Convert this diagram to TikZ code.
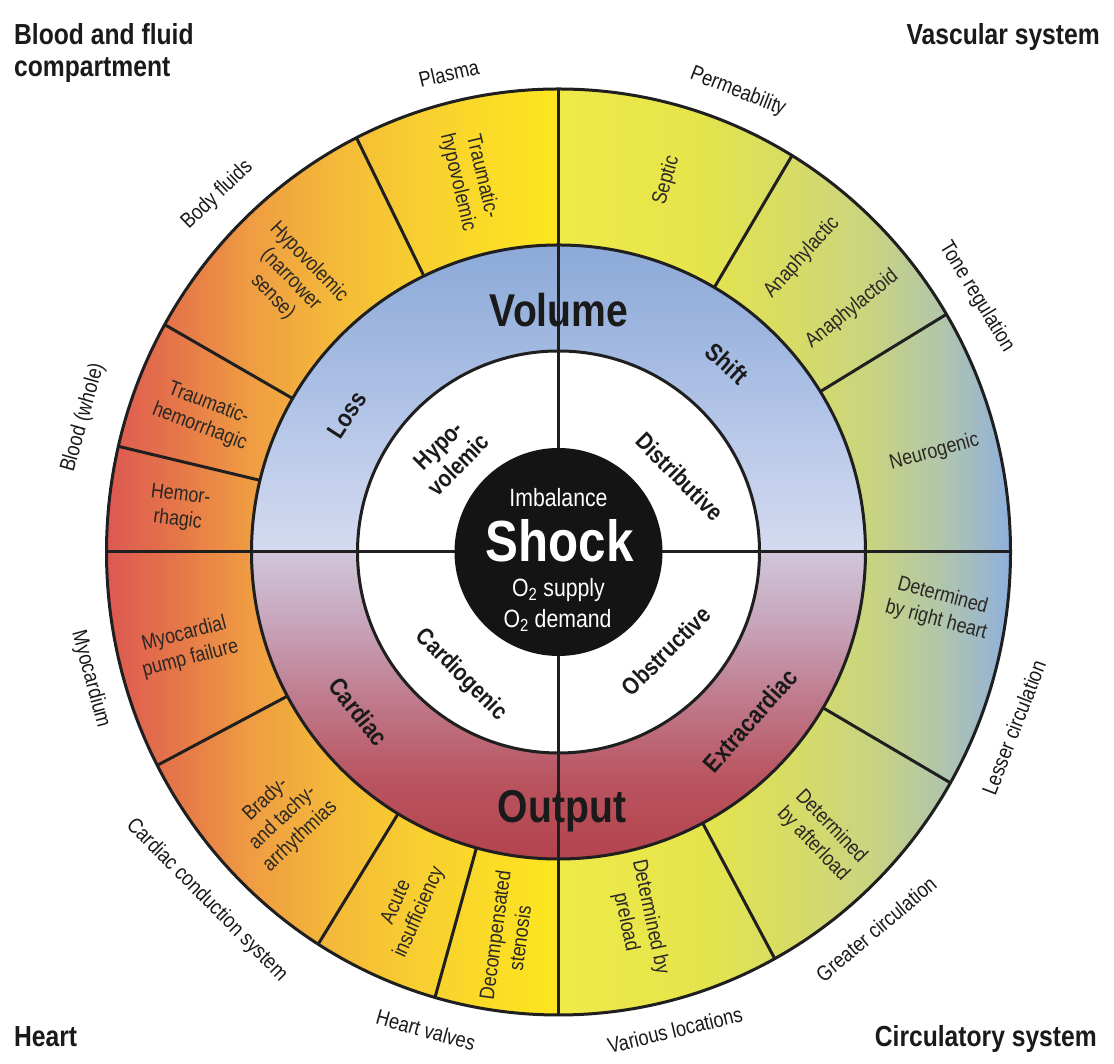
\documentclass[tikz,border=0pt]{standalone}
\usepackage{fontspec}
\setmainfont{Liberation Sans}[FakeStretch=0.85]
\definecolor{oLa}{HTML}{DC5852}
\definecolor{oLb}{HTML}{E67848}
\definecolor{oLc}{HTML}{EF9C42}
\definecolor{oLd}{HTML}{F4B83A}
\definecolor{oLe}{HTML}{F8CF30}
\definecolor{oLf}{HTML}{FBDD26}
\definecolor{oLg}{HTML}{FDE61E}
\definecolor{oRa}{HTML}{EFEA48}
\definecolor{oRb}{HTML}{E5E44C}
\definecolor{oRc}{HTML}{D5DB68}
\definecolor{oRd}{HTML}{C9D480}
\definecolor{oRe}{HTML}{B2C6AA}
\definecolor{oRf}{HTML}{8FB0DE}
\definecolor{iTa}{HTML}{D5DAEF}
\definecolor{iTb}{HTML}{BCCBEA}
\definecolor{iTc}{HTML}{A2B9E1}
\definecolor{iTd}{HTML}{8CA9D8}
\definecolor{iBa}{HTML}{B4434D}
\definecolor{iBb}{HTML}{B9545F}
\definecolor{iBc}{HTML}{BF7A8C}
\definecolor{iBd}{HTML}{C8A6BC}
\definecolor{iBe}{HTML}{D0C6DA}
\definecolor{linecol}{HTML}{1F1F1F}
\definecolor{labcol}{HTML}{1A1A1A}
\definecolor{segcol}{HTML}{2A2724}
\definecolor{shockblack}{HTML}{141414}
\pgfdeclarehorizontalshading{outerL}{100bp}{color(0bp)=(oLa); color(25bp)=(oLa); color(33.2bp)=(oLb); color(40.9bp)=(oLc); color(49.8bp)=(oLd); color(59.7bp)=(oLe); color(68.5bp)=(oLf); color(75bp)=(oLg); color(100bp)=(oLg)}
\pgfdeclarehorizontalshading{outerR}{100bp}{color(0bp)=(oRa); color(25bp)=(oRa); color(40.7bp)=(oRb); color(51.7bp)=(oRc); color(59.5bp)=(oRd); color(67.2bp)=(oRe); color(75bp)=(oRf); color(100bp)=(oRf)}
\pgfdeclareverticalshading{innerT}{100bp}{color(0bp)=(iTa); color(25bp)=(iTa); color(41.6bp)=(iTb); color(57.9bp)=(iTc); color(75bp)=(iTd); color(100bp)=(iTd)}
\pgfdeclareverticalshading{innerB}{100bp}{color(0bp)=(iBa); color(25bp)=(iBa); color(37.9bp)=(iBb); color(50.9bp)=(iBc); color(63.9bp)=(iBd); color(75bp)=(iBe); color(100bp)=(iBe)}
\begin{document}
\begin{tikzpicture}[x=1pt,y=1pt,
  divline/.style={line width=3pt, draw=linecol},
  ringline/.style={line width=3pt, draw=linecol},
  outlab/.style={font=\fontsize{21.5}{25}\selectfont, text=labcol, inner sep=0pt},
  segtxt/.style={font=\fontsize{21}{25}\selectfont, text=segcol, align=center, inner sep=0pt},
  ringlab/.style={font=\bfseries\fontsize{25}{28}\selectfont, text=labcol, inner sep=0pt},
  wlab/.style={font=\bfseries\fontsize{24}{28}\selectfont, text=labcol, align=center, inner sep=0pt},
  bigword/.style={font=\bfseries\fontsize{46}{50}\selectfont, text=labcol, inner sep=0pt},
  corner/.style={font=\bfseries\fontsize{29}{33}\selectfont, text=labcol, inner sep=0pt},
  ctext/.style={font=\fontsize{25}{28}\selectfont, text=white, inner sep=0pt},
  shocktext/.style={font=\bfseries\fontsize{58}{60}\selectfont, text=white, inner sep=0pt}]
\useasboundingbox (0,0) rectangle (1114,1064);
\fill[white] (0,0) rectangle (1114,1064);
\begin{scope}[shift={(558.5,512)}]
  % rings
  \shade[shading=outerL] (0,463) arc[start angle=90,end angle=270,x radius=452,y radius=463] -- cycle;
  \shade[shading=outerR] (0,-463) arc[start angle=-90,end angle=90,x radius=452,y radius=463] -- cycle;
  \shade[shading=innerT] (307,0) arc[start angle=0,end angle=180,radius=307] -- cycle;
  \shade[shading=innerB] (-307,0) arc[start angle=180,end angle=360,radius=307] -- cycle;
  \fill[white] (0,0) circle[radius=201];
  \begin{scope}
    \clip (0,0) ellipse[x radius=452,y radius=463];
    \foreach \a in {116,150,166.5,208,238.5,254.5,-62,-30.5,31.5,59.5}
      \draw[divline] (\a:307) -- (\a:480);
    \draw[divline] (-480,0) -- (480,0);
    \draw[divline] (0,-480) -- (0,480);
  \end{scope}
  \draw[ringline] (0,0) ellipse[x radius=452,y radius=463];
  \draw[ringline] (0,0) circle[radius=307];
  \draw[ringline] (0,0) circle[radius=201];
  \fill[shockblack] (0,0) circle[radius=104];

  % outer labels
  \node[outlab, rotate=13]    (plasma)  at (102.9:491) {Plasma};
  \node[outlab, rotate=43.7]  (bodyfl)  at (133.7:494) {Body fluids};
  \node[outlab, rotate=74.2]  (bloodw)  at (164.2:494) {Blood (whole)};
  \node[outlab, rotate=-21.3] (perm)    at (68.7:494)  {Permeability};
  \node[outlab, rotate=-58.6] (tone)    at (31.4:490)  {Tone regulation};
  \node[outlab, rotate=68.9]  (lesser)  at (-21.1:488) {Lesser circulation};
  \node[outlab, rotate=40.1]  (greater) at (-49.9:493) {Greater circulation};
  \node[outlab, rotate=13.7]  (various) at (-76.3:492) {Various locations};
  \node[outlab, rotate=-15.5] (valves)  at (254.5:496) {Heart valves};
  \node[outlab, rotate=-45.3] (conduct) at (224.7:495) {Cardiac conduction system};
  \node[outlab, rotate=-74.8] (myocard) at (195.2:485) {Myocardium};

  % segment texts
  \node[segtxt, rotate=-76.6] (s1)  at (103.4:383) {Traumatic-\\hypovolemic};
  \node[segtxt, rotate=-46]   (s2)  at (134.5:382) {Hypovolemic\\(narrower\\sense)};
  \node[segtxt, rotate=-21]   (s3)  at (158.9:380) {Traumatic-\\hemorrhagic};
  \node[segtxt, rotate=-7]    (s4)  at (173.4:382) {Hemor-\\rhagic};
  \node[segtxt, rotate=73.8]  (s5)  at (73.8:387)  {Septic};
  \node[segtxt, rotate=48]    (s6)  at (50.4:382)  {Anaphylactic};
  \node[segtxt, rotate=39]    (s7)  at (39.6:381)  {Anaphylactoid};
  \node[segtxt, rotate=15]    (s8)  at (14.9:389)  {Neurogenic};
  \node[segtxt, rotate=-15]   (s9)  at (-8.4:385)  {Determined\\by right heart};
  \node[segtxt, rotate=-46]   (s10) at (-47.1:387) {Determined\\by afterload};
  \node[segtxt, rotate=-78]   (s11) at (-77.8:376) {Determined by\\preload};
  \node[segtxt, rotate=82.4]  (s12) at (262.4:388) {Decompensated\\stenosis};
  \node[segtxt, rotate=66]    (s13) at (247.1:386) {Acute\\insufficiency};
  \node[segtxt, rotate=43.4]  (s14) at (224:383)   {Brady-\\and tachy-\\arrhythmias};
  \node[segtxt, rotate=14.6]  (s15) at (194.3:383) {Myocardial\\pump failure};

  % inner ring labels
  \node[ringlab, rotate=57]    (loss)  at (147:252)   {Loss};
  \node[ringlab, rotate=-41.8] (shift) at (48.2:253)  {Shift};
  \node[ringlab, rotate=-51.4] (card)  at (218.6:256) {Cardiac};
  \node[ringlab, rotate=48.7]  (extra) at (-41.3:255) {Extracardiac};
\end{scope}

% big words
\node[bigword, anchor=base] (volume) at (559,737) {Volume};
\node[bigword, anchor=base] (output) at (562,241) {Output};

% white ring labels
\node[wlab, rotate=45]  (hypo)  at (448.5,609)  {Hypo-\\volemic};
\node[wlab, rotate=-45] (distr) at (680,587.5)  {Distributive};
\node[wlab, rotate=-45] (cardg) at (461,389)    {Cardiogenic};
\node[wlab, rotate=45]  (obstr) at (666,413)    {Obstructive};

% center
\node[ctext, anchor=base]     (imbal)  at (558.5,557) {Imbalance};
\node[shocktext, anchor=base] (shock)  at (559.5,502) {Shock};
\node[ctext, anchor=base]     (supply) at (558.5,467) {O\textsubscript{2} supply};
\node[ctext, anchor=base]     (demand) at (557.5,436) {O\textsubscript{2} demand};

% corner titles
\node[corner, anchor=base west] (bf1) at (14,1019) {Blood and fluid};
\node[corner, anchor=base west] (bf2) at (14,987)  {compartment};
\node[corner, anchor=base east] (vasc) at (1100,1019) {Vascular system};
\node[corner, anchor=base west] (heart) at (14,17) {Heart};
\node[corner, anchor=base east] (circ) at (1097,17) {Circulatory system};
\end{tikzpicture}
\end{document}
